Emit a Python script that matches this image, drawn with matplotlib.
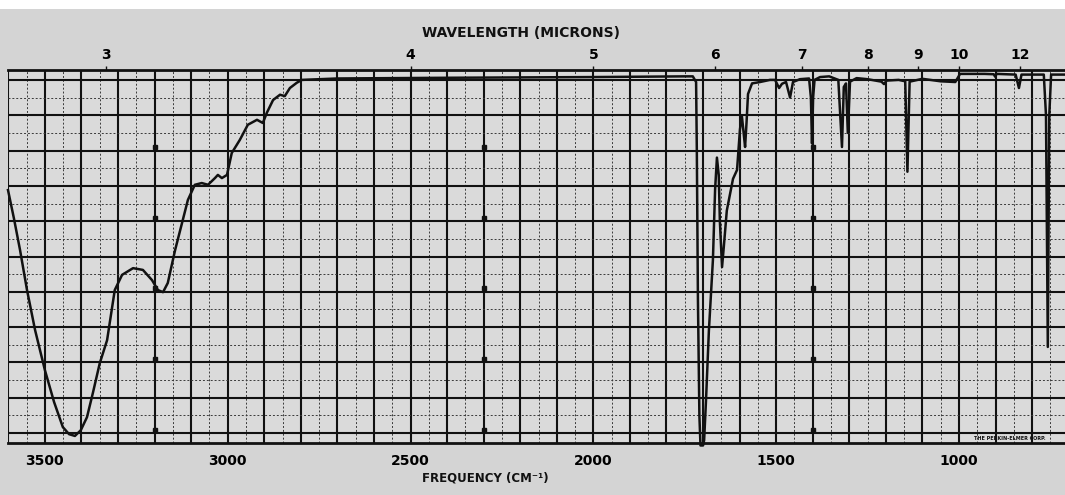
import numpy as np
import matplotlib.pyplot as plt
from matplotlib.ticker import MultipleLocator, FuncFormatter
from matplotlib.patches import Rectangle

# ----------------------------------------------------
# spectrum: frequency (cm-1) / transmittance (%)
# ----------------------------------------------------
FREQ = [3601, 3585, 3568, 3549, 3527, 3500, 3475, 3451, 3434, 3418,
        3402, 3385, 3369, 3350, 3330, 3309, 3289, 3259, 3232, 3207,
        3191, 3177, 3164, 3144, 3125, 3109, 3090, 3071, 3054, 3035,
        3027, 3016, 3002, 2989, 2967, 2945, 2920, 2904, 2893, 2876,
        2857, 2844, 2830, 2811, 2797, 2700, 2400, 2000, 1750, 1728,
        1719, 1717, 1714, 1710, 1707, 1700, 1697, 1692, 1684, 1673,
        1667, 1662, 1657, 1654, 1648, 1643, 1635, 1618, 1607, 1599,
        1594, 1588, 1585, 1581, 1577, 1566, 1544, 1517, 1503, 1492,
        1484, 1473, 1462, 1454, 1435, 1410, 1405, 1402, 1399, 1395,
        1380, 1355, 1330, 1320, 1315, 1309, 1304, 1298, 1280, 1250,
        1212, 1205, 1198, 1165, 1147, 1141, 1135, 1100, 1050, 1010,
        997, 930, 905, 901, 897, 845, 836, 829, 768, 762,
        757, 753, 748, 710]
TRANS = [68.8, 60.9, 51.8, 40.5, 29.2, 17.8, 8.8, 1.7, -0.3, -0.8,
         0.8, 4.5, 11.3, 19.8, 26.3, 40.5, 44.8, 46.7, 46.2, 43.3,
         40.5, 39.9, 42.5, 51.8, 59.5, 66.0, 70.3, 70.8, 70.3, 72.2,
         73.1, 72.2, 73.1, 79.3, 83.0, 87.3, 88.7, 87.8, 90.7, 94.3,
         95.8, 95.4, 97.7, 99.2, 100.0, 100.4, 100.6, 100.8, 101.0, 101.0,
         99.4, 80, 38, 5, -3.5, -3.5, -2, 9, 29, 49,
         69, 78, 73, 60, 47, 53, 63, 72, 74.5, 86,
         90, 84, 81, 88, 96, 99, 99.4, 100, 100, 97.7,
         98.9, 99.4, 95, 99.4, 100.2, 100.4, 95, 82, 95, 100,
         100.8, 101, 100, 81, 98, 99, 85, 99.5, 100.5, 100.2,
         99.5, 98.8, 99.8, 100, 99.6, 74, 99.5, 100.3, 99.6, 99.4,
         101.7, 101.7, 101.6, 100.9, 101.7, 101.5, 97.7, 101.5, 101.5, 90,
         24.4, 90, 101.5, 101.5]

FREQ_LABELS = [3500, 3000, 2500, 2000, 1500, 1000]
WAVELENGTHS = [3, 4, 5, 6, 7, 8, 9, 10, 12]

# marks printed on the chart paper
MARK_FREQ = [3200, 2300, 1400]
MARK_T = [81, 61, 41, 21, 1]

PAPER = '#d4d4d4'
INK = '#111111'

W, H = 1065, 495
fig = plt.figure(figsize=(W / 100, H / 100), dpi=100, facecolor=PAPER)
fig.patches.append(Rectangle((0, 1 - 9 / H), 1, 9 / H, transform=fig.transFigure,
                             facecolor='white', edgecolor='none'))

ax = fig.add_axes([8 / W, 1 - 443 / H, 1057 / W, 373 / H], facecolor='#dadada')
ax.set_xlim(3601, 710)
ax.set_ylim(-2.8, 102.8)

# chart paper grid
ax.xaxis.set_major_locator(MultipleLocator(100))
ax.xaxis.set_minor_locator(MultipleLocator(50))
ax.yaxis.set_major_locator(MultipleLocator(10))
ax.yaxis.set_minor_locator(MultipleLocator(5))
ax.grid(which='major', color=INK, lw=1.5)
ax.grid(which='minor', color='#3a3a3a', lw=0.7, ls=(0, (2, 2)))
ax.set_axisbelow(True)

ax.xaxis.set_major_formatter(FuncFormatter(
    lambda v, p: f'{int(round(v))}' if int(round(v)) in FREQ_LABELS else ''))
ax.tick_params(axis='x', which='both', length=0, pad=8)
ax.tick_params(axis='y', which='both', length=0, labelleft=False)
for lab in ax.get_xticklabels():
    lab.set_fontweight('bold')
    lab.set_fontsize(10)

for s in ['left', 'right']:
    ax.spines[s].set_visible(False)
for s in ['top', 'bottom']:
    ax.spines[s].set_linewidth(2)
    ax.spines[s].set_color(INK)

# paper marks
for f in MARK_FREQ:
    ax.plot([f] * len(MARK_T), MARK_T, 's', ms=3.5, color=INK, zorder=3)

# the trace
ax.plot(FREQ, TRANS, color=INK, lw=1.8, zorder=4, clip_on=False)

# wavelength scale on top
def inv(v):
    v = np.asarray(v, dtype=float)
    with np.errstate(divide='ignore'):
        return 10000.0 / v

sec = ax.secondary_xaxis('top', functions=(inv, inv))
sec.set_xticks(WAVELENGTHS)
sec.set_xticklabels([str(w) for w in WAVELENGTHS], fontweight='bold', fontsize=10)
sec.xaxis.set_minor_locator(plt.NullLocator())
sec.tick_params(length=3, width=1, pad=3, color=INK)
sec.spines['top'].set_visible(False)

fig.text(521 / W, 1 - 33 / H, 'WAVELENGTH (MICRONS)', ha='center', va='center',
         fontweight='bold', fontsize=10, color=INK)
fig.text(485 / W, 1 - 478 / H, 'FREQUENCY (CM⁻¹)', ha='center', va='center',
         fontweight='bold', fontsize=8.5, color=INK)
fig.text(1010 / W, 1 - 439 / H, 'THE PERKIN-ELMER CORP.', ha='center', va='center',
         fontweight='bold', fontsize=3.5, color=INK)

fig.savefig('out.png', dpi=100, facecolor=fig.get_facecolor())
